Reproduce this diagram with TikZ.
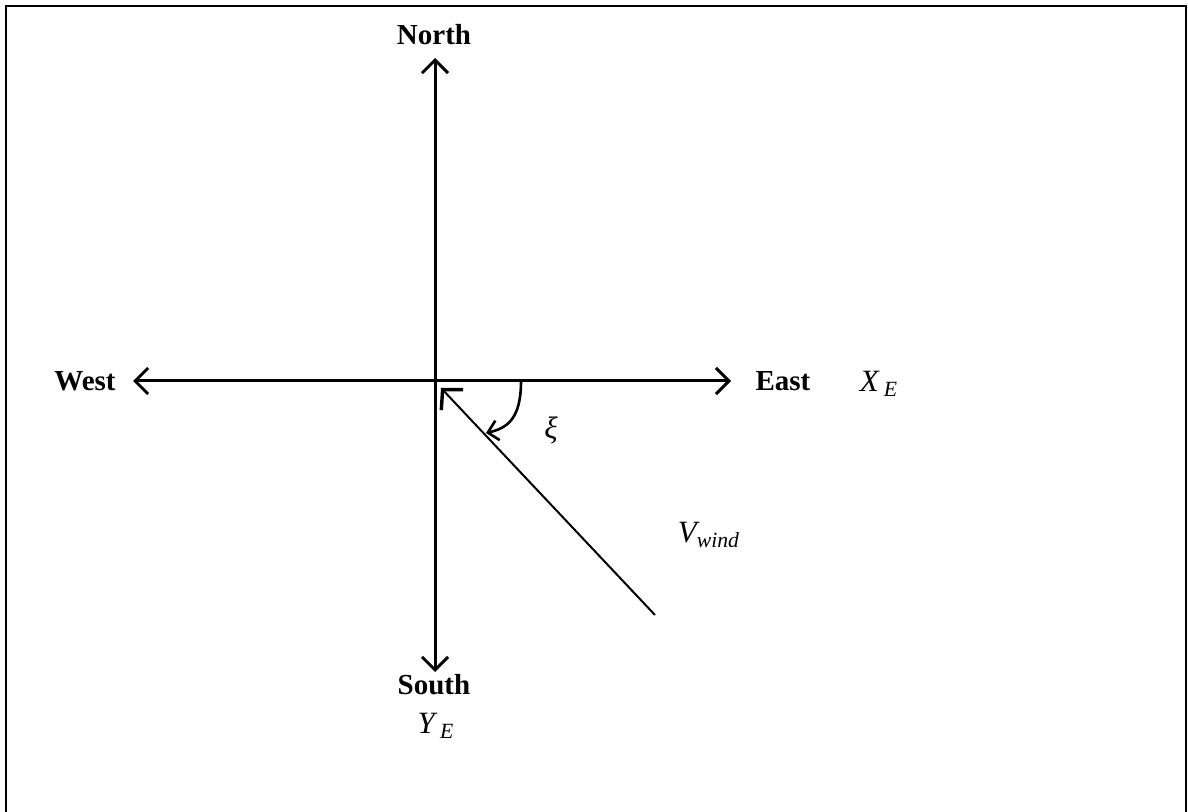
\documentclass[tikz,border=0pt]{standalone}
\usepackage{fontspec}
\setmainfont{Liberation Serif}
\usetikzlibrary{arrows.meta,positioning}

\begin{document}
\begin{tikzpicture}[
    x=0.5pt, y=-0.5pt,
    axisLine/.style={
        {Straight Barb[length=6.5pt, width=13pt]}-{Straight Barb[length=6.5pt, width=13pt]}, line width=1.5pt, draw=black
    },
    windLine/.style={
        -{Straight Barb[length=7pt, width=15pt, line width=1.7pt]}, line width=1pt, draw=black
    },
    angleArc/.style={
        -{Straight Barb[length=5pt, width=10pt]}, line width=1.3pt, draw=black
    },
    dirLabel/.style={
        font=\fontsize{14.5}{17}\selectfont\bfseries, inner sep=1pt
    },
    symLabel/.style={
        font=\fontsize{15.5}{18}\selectfont\itshape, inner sep=1pt
    }
]

% Frame and page size
\useasboundingbox (0,0) rectangle (1188,812);
\draw[line width=1pt] (6,812) -- (6,6) -- (1186,6) -- (1186,812);

% Axis end points
\coordinate (origin) at (435,381);
\coordinate (northTip) at (435,58);
\coordinate (southTip) at (435,672);
\coordinate (westTip) at (133,381);
\coordinate (eastTip) at (731,381);

% Compass labels
\node[dirLabel] (north) at (434,35) {North};
\node[dirLabel] (south) at (434,685) {South};
\node[dirLabel] (west) at (85,381) {West};
\node[dirLabel] (east) at (783,381) {East};

% Earth axes
\node[symLabel] (xE) at (879,384) {X\,\textsubscript{E}};
\node[symLabel] (yE) at (436,726) {Y\,\textsubscript{E}};

% North--South and West--East axes
\draw[axisLine] (southTip) -- (northTip);
\draw[axisLine] (westTip) -- (eastTip);

% Wind vector
\coordinate (windTail) at (655,615);
\coordinate (windHead) at (441,388);
\draw[windLine] (windTail) -- (windHead);
\node[symLabel] (vWind) at (709,535) {V\textsubscript{wind}};

% Wind angle
\coordinate (arcStart) at (521,381);
\coordinate (arcEnd) at (486,433);
\draw[angleArc] (arcStart) .. controls (521,418) and (508,428) .. (arcEnd);
\node[symLabel] (xi) at (551,430) {ξ};

\end{tikzpicture}
\end{document}
